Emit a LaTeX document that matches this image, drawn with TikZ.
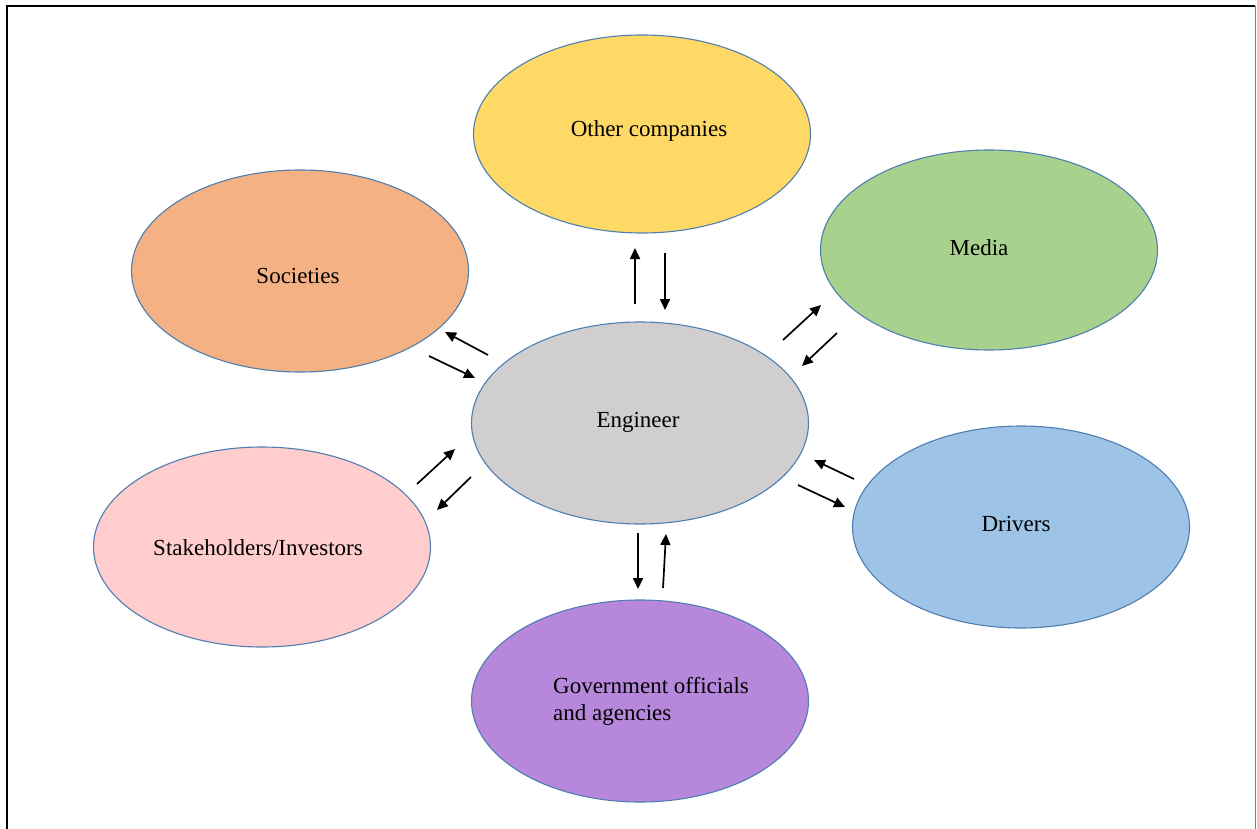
\documentclass[tikz,border=0pt]{standalone}
\usepackage{fontspec}
\setmainfont{Liberation Serif}
\usetikzlibrary{arrows.meta,shapes.geometric}
\definecolor{cyel}{HTML}{FFD966}
\definecolor{cgrn}{HTML}{A9D18E}
\definecolor{corg}{HTML}{F4B183}
\definecolor{cgry}{HTML}{D0CECE}
\definecolor{cpnk}{HTML}{FFCDCD}
\definecolor{cblu}{HTML}{9DC3E6}
\definecolor{cpur}{HTML}{B687DA}
\definecolor{cedge}{HTML}{4F7FB0}
\tikzset{
  bubble/.style={ellipse, draw=cedge, line width=1.1pt, inner sep=0pt,
    minimum width=337pt, minimum height=202pt},
  txt/.style={font=\fontsize{23}{27}\selectfont, text=black, inner sep=0pt},
  flow/.style={line width=1.7pt, -{Triangle[length=11pt,width=10pt]}}
}
\begin{document}
\begin{tikzpicture}[x=1pt,y=-1pt]
\useasboundingbox (0,0) rectangle (1257,829);
\fill[white] (0,0) rectangle (1257,829);
% frame
\draw[line width=2.2pt,black] (7,829) -- (7,6) -- (1255,6);
\draw[line width=1pt,gray] (1255,6) -- (1255,829);
% ellipses
\node[bubble, fill=cyel, minimum height=198pt,
  label={[txt,xshift=7pt,yshift=3pt]center:Other companies}] (oth) at (642,134) {};
\node[bubble, fill=cgrn, minimum height=200pt,
  label={[txt,xshift=-10pt,yshift=2pt]center:Media}] (med) at (989,250) {};
\node[bubble, fill=corg,
  label={[txt,xshift=-2pt,yshift=-5pt]center:Societies}] (soc) at (300,271) {};
\node[bubble, fill=cgry,
  label={[txt,xshift=-2pt,yshift=1pt]center:Engineer}] (eng) at (640,423) {};
\node[bubble, fill=cpnk, minimum height=200pt,
  label={[txt,xshift=-4pt,yshift=-1pt]center:Stakeholders/Investors}] (stk) at (262,547) {};
\node[bubble, fill=cblu,
  label={[txt,xshift=-5pt,yshift=3pt]center:Drivers}] (drv) at (1021,527) {};
\node[bubble, fill=cpur,
  label={[txt,align=left,xshift=11pt]center:Government officials\\and agencies}] (gov) at (640,701) {};
% arrow end points
\coordinate (a1s) at (635,304); \coordinate (a1e) at (635,248);
\coordinate (a2s) at (665,253); \coordinate (a2e) at (665,310);
\coordinate (b1s) at (488,355); \coordinate (b1e) at (445,332);
\coordinate (b2s) at (429,356); \coordinate (b2e) at (475,378);
\coordinate (c1s) at (783,340); \coordinate (c1e) at (821,305);
\coordinate (c2s) at (837,333); \coordinate (c2e) at (802,366);
\coordinate (d1s) at (417,484); \coordinate (d1e) at (455,449);
\coordinate (d2s) at (471,477); \coordinate (d2e) at (437,510);
\coordinate (e1s) at (854,479); \coordinate (e1e) at (814,460);
\coordinate (e2s) at (798,485); \coordinate (e2e) at (845,507);
\coordinate (f1s) at (638,533); \coordinate (f1e) at (638,589);
\coordinate (f2s) at (663,588); \coordinate (f2e) at (666,534);
\foreach \p in {a1,a2,b1,b2,c1,c2,d1,d2,e1,e2,f1,f2}
  \draw[flow] (\p s) -- (\p e);
\end{tikzpicture}
\end{document}
